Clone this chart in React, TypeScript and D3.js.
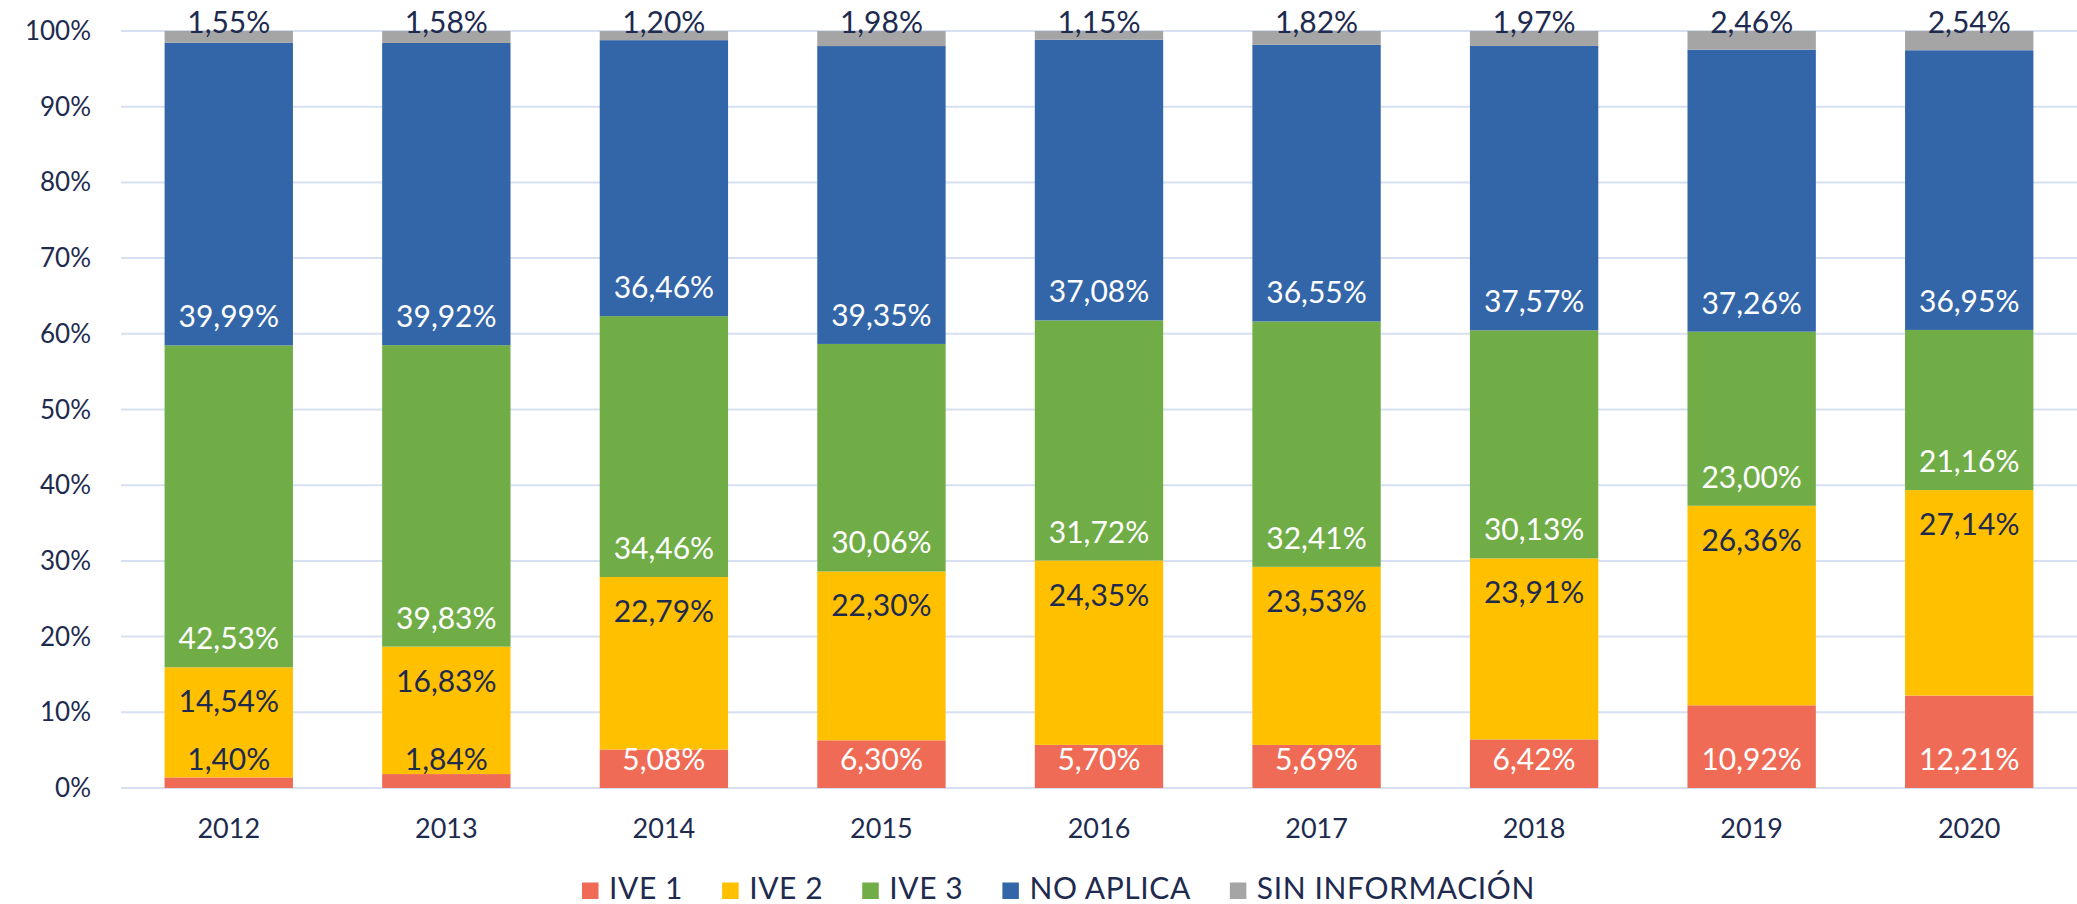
import React, { useEffect, useRef } from "react";
import * as d3 from "d3";

const years = ["2012", "2013", "2014", "2015", "2016", "2017", "2018", "2019", "2020"];
const seriesNames = ["IVE 1", "IVE 2", "IVE 3", "NO APLICA", "SIN INFORMACIÓN"];
const ive1 = [1.4, 1.84, 5.08, 6.3, 5.7, 5.69, 6.42, 10.92, 12.21];
const ive2 = [14.54, 16.83, 22.79, 22.3, 24.35, 23.53, 23.91, 26.36, 27.14];
const ive3 = [42.53, 39.83, 34.46, 30.06, 31.72, 32.41, 30.13, 23.0, 21.16];
const noAplica = [39.99, 39.92, 36.46, 39.35, 37.08, 36.55, 37.57, 37.26, 36.95];
const sinInfo = [1.55, 1.58, 1.2, 1.98, 1.15, 1.82, 1.97, 2.46, 2.54];
const yTicks = [0, 0.1, 0.2, 0.3, 0.4, 0.5, 0.6, 0.7, 0.8, 0.9, 1.0];

const colors = ["#F06B55", "#FFC000", "#70AD47", "#3366A8", "#A5A5A5"];
const TEXT = "#1E2B4F";
const GRID = "#D6E0F2";
const FONT = "Lato, 'Open Sans', sans-serif";

const W = 2077;
const H = 904;

export default function App() {
  const ref = useRef<SVGSVGElement | null>(null);

  useEffect(() => {
    const svg = d3.select(ref.current);
    svg.selectAll("*").remove();

    const x = d3.scaleBand<string>().domain(years).range([120, 2078]).paddingInner(0.41).paddingOuter(0.205);
    const y = d3.scaleLinear().domain([0, 1]).range([788, 31]);

    const series = [ive1, ive2, ive3, noAplica, sinInfo];
    const rows = years.map((yr, i) => {
      const r: any = { year: yr };
      seriesNames.forEach((s, k) => (r[s] = series[k][i] / 100));
      return r;
    });
    const stack = d3.stack<any>().keys(seriesNames)(rows);

    // grid
    svg
      .append("g")
      .selectAll("line")
      .data(yTicks)
      .join("line")
      .attr("x1", 121)
      .attr("x2", W)
      .attr("y1", (d) => y(d))
      .attr("y2", (d) => y(d))
      .attr("stroke", GRID)
      .attr("stroke-width", 2);

    // y tick labels
    svg
      .append("g")
      .selectAll("text")
      .data(yTicks)
      .join("text")
      .attr("x", 91)
      .attr("y", (d) => y(d) + 9)
      .attr("text-anchor", "end")
      .attr("font-family", FONT)
      .attr("font-size", 26)
      .attr("fill", TEXT)
      .text((d) => d3.format(".0%")(d));

    // bars
    stack.forEach((layer, k) => {
      svg
        .append("g")
        .selectAll("rect")
        .data(layer)
        .join("rect")
        .attr("x", (d: any) => x(d.data.year)!)
        .attr("width", x.bandwidth())
        .attr("y", (d: any) => y(d[1]))
        .attr("height", (d: any) => y(d[0]) - y(d[1]))
        .attr("fill", colors[k]);
    });

    // data labels
    const fmt = (v: number) => (v * 100).toFixed(2).replace(".", ",") + "%";
    stack.forEach((layer, k) => {
      svg
        .append("g")
        .selectAll("text")
        .data(layer)
        .join("text")
        .attr("x", (d: any) => x(d.data.year)! + x.bandwidth() / 2)
        .attr("y", (d: any) => {
          if (k === 1) return y(d[1]) + 45;
          if (k === 4) return y(1) + 2;
          return y(d[0]) - 18;
        })
        .attr("text-anchor", "middle")
        .attr("font-family", FONT)
        .attr("font-size", 30)
        .attr("fill", (d: any) => {
          const v = d[1] - d[0];
          if (k === 0) return v < 0.03 ? TEXT : "#FFFFFF";
          if (k === 1 || k === 4) return TEXT;
          return "#FFFFFF";
        })
        .text((d: any) => fmt(d[1] - d[0]));
    });

    // x labels
    svg
      .append("g")
      .selectAll("text")
      .data(years)
      .join("text")
      .attr("x", (d) => x(d)! + x.bandwidth() / 2)
      .attr("y", 838)
      .attr("text-anchor", "middle")
      .attr("font-family", FONT)
      .attr("font-size", 27)
      .attr("fill", TEXT)
      .text((d) => d);

    // legend
    const lg = svg.append("g");
    const sq = 16.5;
    const textOff = 27;
    const items = seriesNames.map((name, k) => {
      const g = lg.append("g");
      g.append("rect").attr("x", 0).attr("y", -sq).attr("width", sq).attr("height", sq).attr("fill", colors[k]);
      const t = g
        .append("text")
        .attr("x", textOff)
        .attr("font-family", FONT)
        .attr("font-size", 30)
        .attr("letter-spacing", 0.6)
        .attr("fill", TEXT)
        .text(name);
      const w = (t.node() as SVGTextElement).getComputedTextLength();
      return { g, w: textOff + w };
    });
    const gap = 39;
    const total = d3.sum(items, (d) => d.w) + gap * (items.length - 1);
    let cx = 1058.5 - total / 2;
    items.forEach((it) => {
      it.g.attr("transform", `translate(${cx},899)`);
      cx += it.w + gap;
    });
  }, []);

  return (
    <svg
      ref={ref}
      width={W}
      height={H}
      style={{ position: "absolute", left: 0, top: 0, background: "#FFFFFF" }}
    />
  );
}
